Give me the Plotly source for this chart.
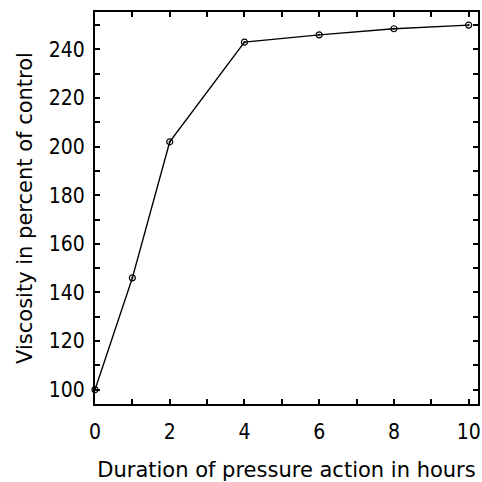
import plotly.graph_objects as go

hours = [0, 1, 2, 4, 6, 8, 10]
viscosity = [100, 146, 202, 243, 246, 248.5, 250]
x_tick_vals = [0, 2, 4, 6, 8, 10]
y_tick_vals = [100, 120, 140, 160, 180, 200, 220, 240]

TICK_FONT = dict(family="DejaVu Sans Condensed", size=21, color="black")
TITLE_FONT = dict(family="DejaVu Sans", size=21, color="black")

fig = go.Figure()
fig.add_trace(go.Scatter(
    x=hours, y=viscosity, mode="lines+markers",
    line=dict(color="black", width=1.4),
    marker=dict(symbol="circle-open-dot", size=6, color="black", line=dict(width=1.2)),
    showlegend=False, cliponaxis=False,
))

axis_common = dict(
    showline=True, linecolor="black", linewidth=2, mirror="ticks",
    ticks="inside", ticklen=5, tickwidth=1.5, tickcolor="black",
    showgrid=False, zeroline=False,
    tickfont=TICK_FONT,
)

fig.update_xaxes(
    range=[0, 10.25], tickvals=x_tick_vals, ticklabelstandoff=8,
    minor=dict(dtick=1, ticks="inside", ticklen=5, tickwidth=1.5, tickcolor="black", showgrid=False),
    title=dict(text="Duration of pressure action in hours", standoff=21, font=TITLE_FONT),
    **axis_common,
)
fig.update_yaxes(
    range=[94.1, 255.4], tickvals=y_tick_vals, ticklabelstandoff=4,
    minor=dict(dtick=10, tick0=100, ticks="inside", ticklen=5, tickwidth=1.5, tickcolor="black", showgrid=False),
    title=dict(text="Viscosity in percent of control", standoff=10, font=TITLE_FONT),
    **axis_common,
)

fig.update_layout(
    width=482, height=482,
    margin=dict(l=95, r=2, t=12, b=78),
    paper_bgcolor="white", plot_bgcolor="white",
)

fig.write_html("out.html")
